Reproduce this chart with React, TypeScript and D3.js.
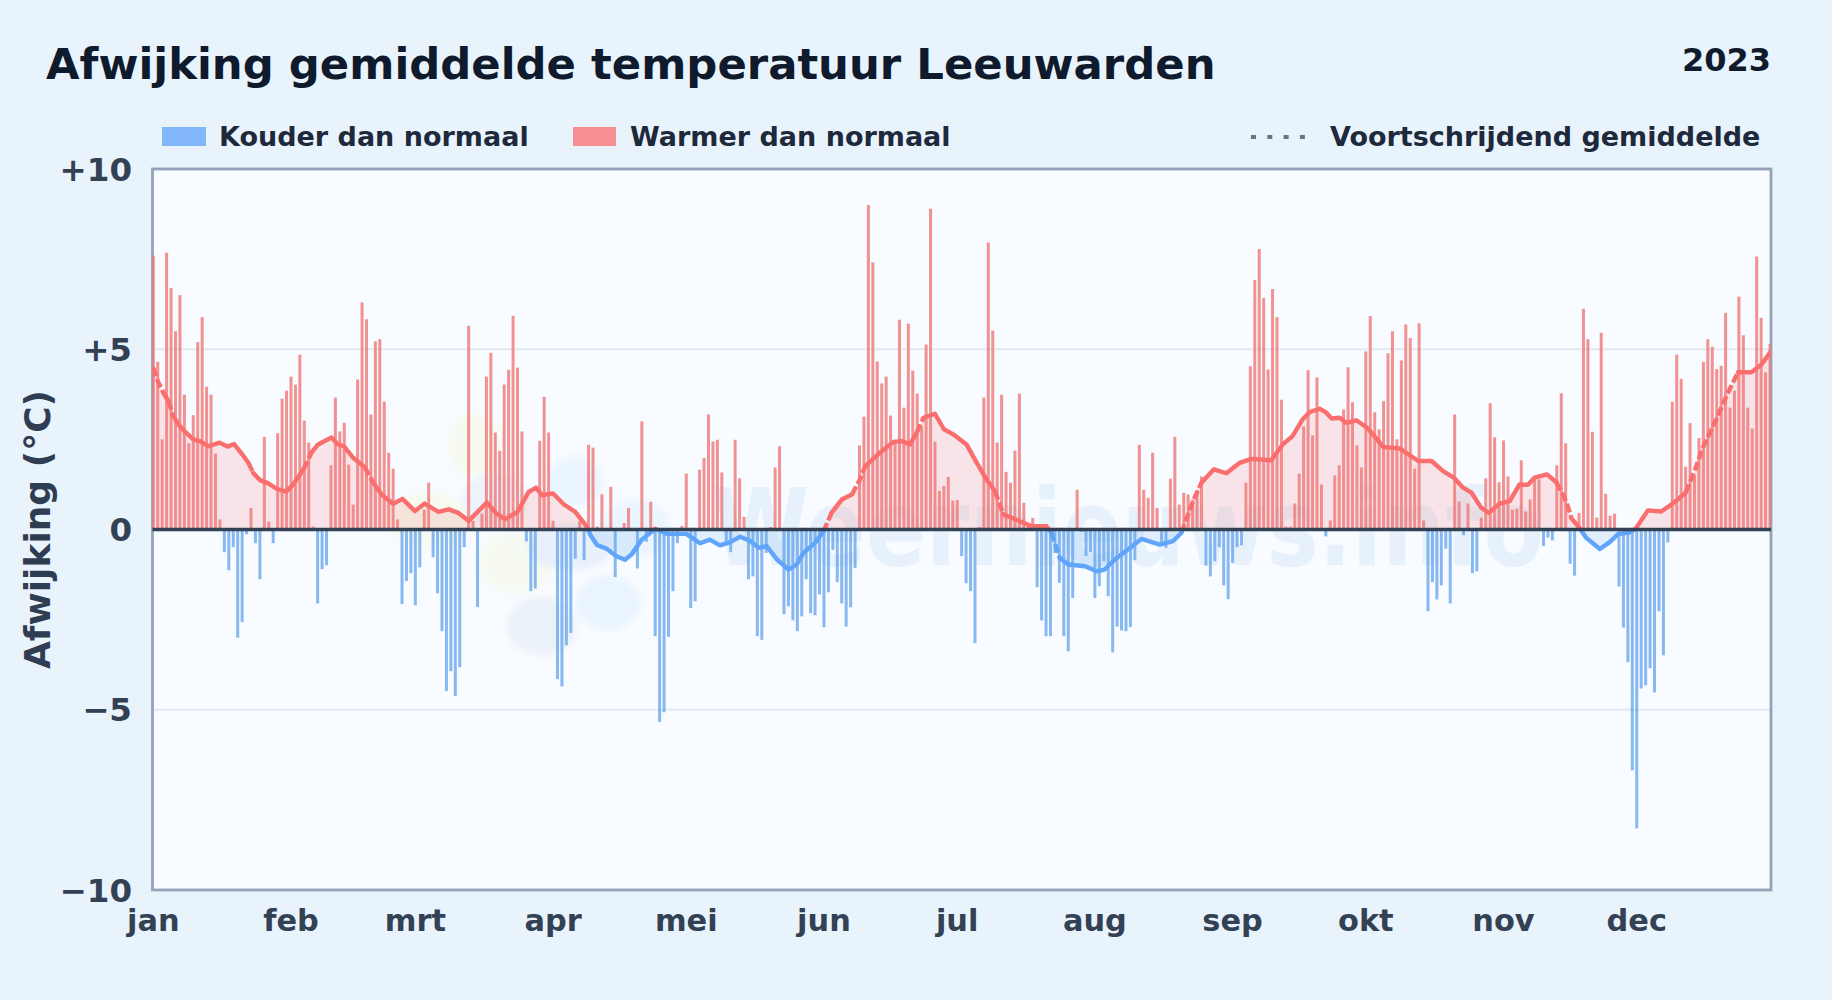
import React, { useEffect } from 'react';
import * as d3 from 'd3';

const WIDTH = 1832;
const HEIGHT = 1000;
const PLOT = { left: 152.5, right: 1771, top: 169, bottom: 890 };

const MONTHS = ['jan', 'feb', 'mrt', 'apr', 'mei', 'jun', 'jul', 'aug', 'sep', 'okt', 'nov', 'dec'];
const MONTH_STARTS = [0, 31, 59, 90, 120, 151, 181, 212, 243, 273, 304, 334];
const Y_TICKS = [10, 5, 0, -5, -10];
const GRID_TICKS = [5, -5];

const DAILY_JAN_FEB = [
  7.6, 4.65, 2.5, 7.68, 6.7, 5.5, 6.5, 3.74, 2.39, 3.17, 5.2, 5.89, 3.96, 3.74, 2.11, 0.28, -0.63, -1.13, -0.49, -3.0,
  -2.57, -0.13, 0.6, -0.38, -1.38, 2.57, 0.22, -0.38, 2.67, 3.63, 3.85, 4.24, 4.02, 4.85, 3.02, 2.41, 0.08, -2.05, -1.1, -0.99,
  1.78, 3.66, 2.72, 2.96, 1.8, 0.69, 4.16, 6.3, 5.83, 3.19, 5.22, 5.28, 3.55, 2.13, 1.69, 0.28, -2.07, -1.43, -1.21,
];
const DAILY_MAR_APR = [
  -2.1, -1.05, 0.55, 1.3, -0.77, -1.77, -2.82, -4.48, -3.93, -4.62, -3.82, -0.49, 5.65, 0.24, -2.15, 0.44, 4.24, 4.9, 2.69, 2.18,
  4.02, 4.43, 5.93, 4.49, 2.72, -0.33, -1.71, -1.64, 2.46, 3.68, 2.69, 0.24, -4.15, -4.35, -3.21, -2.87, -0.81, 0.24, -0.85, 2.35,
  2.27, 0.08, 0.98, 0, 1.18, -1.32, 0, 0.18, 0.6, 0, -1.08, 3.0, -0.34, 0.77, -2.96, -5.34, -5.07, -2.98, -1.71, -0.38, 0.1,
];
const DAILY_MAY_JUN = [
  1.55, -2.18, -1.99, 1.66, 1.98, 3.19, 2.44, 2.49, 1.58, -0.33, -0.63, 2.49, 1.42, 0.35, -1.38, -1.3, -2.96, -3.06, -0.65, 0.07,
  1.72, 2.31, -2.35, -2.13, -2.52, -2.82, -2.41, -1.38, -2.32, -2.38, -1.8, -2.71, -1.74, -0.57, -1.46, -2.05, -2.69, -2.16, -1.07, 2.33,
  3.13, 9.0, 7.41, 4.66, 4.05, 4.24, 3.16, 2.45, 5.82, 3.38, 5.71, 4.41, 3.77, 2.85, 5.13, 8.9, 2.44, 1.07, 1.21, 1.46, 0.8,
];
const DAILY_JUL_AUG = [
  0.82, -0.74, -1.49, -1.71, -3.15, 0.07, 3.66, 7.96, 5.52, 2.41, 3.74, 1.6, 1.3, 2.19, 3.77, 0.74, 0.14, 0.32, -1.6, -2.52,
  -2.96, -2.96, -0.65, -1.48, -2.96, -3.38, -1.9, 1.1, -0.07, -0.74, -0.63, -1.9, -1.57, -0.88, -1.85, -3.41, -2.69, -2.8, -2.82, -2.71,
  -0.85, 2.35, 1.1, 0.88, 2.13, 0.6, -0.37, -0.51, 1.41, 2.57, 0.69, 1.02, 0.97, 0.83, 1.1, 1.47, -1.0, -1.3, -0.88, -0.49, -1.55, -1.93,
];
const DAILY_SEP_OCT = [
  -0.93, -0.49, -0.44, 1.3, 4.53, 6.92, 7.78, 6.42, 4.44, 6.67, 5.89, 3.6, 0.08, 0.08, 0.72, 1.55, 2.86, 4.42, 2.61, 4.22,
  1.25, -0.19, 0.25, 1.5, 1.78, 3.33, 4.5, 3.53, 2.33, 1.72, 4.94, 5.92, 3.25, 2.78, 3.56, 4.89, 5.5, 2.5, 4.69, 5.69,
  5.31, 1.69, 5.72, 0.25, -2.27, -1.46, -1.94, -1.55, -0.53, -2.05, 3.19, 0.78, -0.16, 0.72, -1.21, -1.16, 0.33, 1.42, 3.5, 2.56, 1.31,
];
const DAILY_NOV_DEC = [
  2.47, 1.47, 0.55, 0.58, 1.92, 0.5, 0.83, 1.39, 1.39, -0.46, -0.22, -0.3, 1.78, 3.78, 2.39, -0.95, -1.28, 0.46, 6.12, 5.28,
  2.71, 0.33, 5.46, 0.99, 0.38, 0.44, -1.58, -2.72, -3.68, -6.68, -8.29, -4.41, -4.32, -3.85, -4.52, -2.27, -3.49, -0.36, 3.54, 4.85,
  4.18, 1.74, 2.95, 1.5, 2.54, 4.65, 5.28, 5.07, 4.45, 4.54, 6.01, 3.38, 3.85, 6.46, 5.39, 3.38, 2.8, 7.57, 5.87, 4.36, 5.15,
];
const DAILY = [...DAILY_JAN_FEB, ...DAILY_MAR_APR, ...DAILY_MAY_JUN, ...DAILY_JUL_AUG, ...DAILY_SEP_OCT, ...DAILY_NOV_DEC];

const ROLLING: [number, number][] = [
  [0, 4.49], [1, 4.12], [2.25, 3.8], [3.4, 3.56], [4.5, 3.15], [5.6, 2.92], [7, 2.73], [9, 2.5], [10.5, 2.45], [12.4, 2.31],
  [14.9, 2.41], [16.7, 2.3], [18.2, 2.37], [20.3, 2.04], [21.4, 1.85], [22.5, 1.57], [24, 1.37], [25.9, 1.28], [27.8, 1.13], [29.9, 1.05],
  [31.5, 1.25], [33.8, 1.67], [35.6, 2.13], [37.1, 2.36], [40.1, 2.55], [41.6, 2.36], [42.9, 2.31], [45, 1.99], [47.6, 1.73], [49.5, 1.3],
  [51.4, 0.97], [54, 0.71], [56.1, 0.85], [58.9, 0.51], [61.1, 0.72], [64.2, 0.49], [66.5, 0.56], [68.7, 0.46], [71, 0.24], [75.1, 0.75],
  [77.3, 0.44], [79.2, 0.29], [82, 0.49], [84.5, 1.04], [86.2, 1.16], [87.5, 0.95], [90, 1.0], [92.4, 0.7], [95, 0.49], [97.6, 0.08],
  [98.5, -0.17], [99.9, -0.43], [102, -0.53], [104.3, -0.74], [106.2, -0.84], [107.7, -0.69], [110, -0.28], [113, 0.02], [115.6, -0.12], [120, -0.12],
  [123.1, -0.38], [125.3, -0.28], [127.6, -0.44], [129.9, -0.35], [132.1, -0.2], [134.4, -0.32], [136.3, -0.51], [138.1, -0.46], [140.4, -0.83], [143, -1.11],
  [144.9, -0.97], [146.4, -0.65], [149, -0.37], [150.9, -0.05], [152.7, 0.46], [155, 0.83], [157.3, 0.97], [159.1, 1.39], [160.3, 1.76], [163.6, 2.13],
  [166.6, 2.43], [168.5, 2.45], [170.4, 2.36], [171.9, 2.69], [173.4, 3.1], [176, 3.21], [178, 2.78], [180.1, 2.64], [183.1, 2.36], [185.4, 1.85],
  [187.6, 1.39], [189.5, 1.06], [191.4, 0.42], [195.1, 0.23], [197.8, 0.09], [201.1, 0.09], [202.2, -0.09], [204.1, -0.79], [206, -0.97], [209.8, -1.02],
  [212.4, -1.16], [214.2, -1.11], [216.9, -0.79], [219.9, -0.51], [222.5, -0.26], [226.6, -0.42], [229.6, -0.32], [231.5, -0.09], [233, 0.42], [234.1, 0.79],
  [236, 1.3], [238.8, 1.67], [241.6, 1.56], [244.6, 1.85], [247.2, 1.96], [251.7, 1.92], [254.3, 2.36], [256.5, 2.59], [258.8, 3.06], [260.4, 3.26],
  [262.6, 3.35], [264.1, 3.24], [265.3, 3.08], [267.1, 3.1], [268.6, 2.96], [270.9, 3.03], [273.5, 2.8], [276.9, 2.29], [280.6, 2.25], [284.8, 1.9],
  [287.8, 1.9], [290.4, 1.62], [292.8, 1.44], [294.9, 1.16], [296.8, 1.02], [299, 0.6], [300.7, 0.46], [303.1, 0.72], [305.4, 0.79], [307.6, 1.25],
  [309.5, 1.24], [311, 1.44], [313.8, 1.53], [315.9, 1.31], [317.4, 0.97], [318.6, 0.6], [319.3, 0.31], [320.8, 0.09], [322.7, -0.24], [325.7, -0.54],
  [327.9, -0.35], [329.8, -0.13], [332.4, -0.08], [333.8, 0.03], [336.5, 0.53], [339.5, 0.5], [341.8, 0.69], [345, 1.02], [347, 1.62], [348.9, 2.28],
  [351.9, 3.05], [354.2, 3.71], [356.8, 4.36], [359.8, 4.36], [362.1, 4.58], [364, 4.91],
];

const FONT = '"DejaVu Sans", sans-serif';
const STEEP = 1.8;

const App: React.FC = () => {
  useEffect(() => {
    document.body.style.margin = '0';
  }, []);

  const plotW = PLOT.right - PLOT.left;
  const x = d3.scaleLinear().domain([0, 364]).range([153.3, 1770]);
  const y = d3.scaleLinear().domain([-10, 10]).range([PLOT.bottom, PLOT.top]);
  const zeroY = y(0);

  const area = d3.area<[number, number]>().x(d => x(d[0])).y0(zeroY).y1(d => y(d[1]));
  const line = d3.line<[number, number]>().x(d => x(d[0])).y(d => y(d[1]));

  // steile stukken van de lijn zijn in het origineel gebroken
  const runs: { pts: [number, number][]; steep: boolean }[] = [];
  ROLLING.slice(1).forEach((p, i) => {
    const prev = ROLLING[i];
    const steep = Math.abs(y(p[1]) - y(prev[1])) / (x(p[0]) - x(prev[0])) > STEEP;
    const last = runs[runs.length - 1];
    if (last && last.steep === steep) last.pts.push(p);
    else runs.push({ pts: [prev, p], steep });
  });

  const rollingLine = (color: string) =>
    runs.map((r, i) => (
      <path
        key={i}
        d={line(r.pts) || ''}
        fill="none"
        stroke={color}
        strokeWidth={4.4}
        strokeLinejoin="round"
        strokeLinecap={r.steep ? 'butt' : 'round'}
        strokeDasharray={r.steep ? '9 3' : undefined}
      />
    ));

  return (
    <svg width={WIDTH} height={HEIGHT} viewBox={`0 0 ${WIDTH} ${HEIGHT}`} style={{ display: 'block' }} fontFamily={FONT} fontWeight="bold">
      <defs>
        <clipPath id="plot">
          <rect x={PLOT.left - 1} y={PLOT.top} width={plotW + 1} height={PLOT.bottom - PLOT.top} />
        </clipPath>
        <clipPath id="above">
          <rect x={PLOT.left - 1} y={PLOT.top} width={plotW + 1} height={zeroY - PLOT.top} />
        </clipPath>
        <clipPath id="below">
          <rect x={PLOT.left - 1} y={zeroY} width={plotW + 1} height={PLOT.bottom - zeroY} />
        </clipPath>
        <filter id="soft" x="-20%" y="-20%" width="140%" height="140%">
          <feGaussianBlur stdDeviation="3" />
        </filter>
      </defs>

      <rect width={WIDTH} height={HEIGHT} fill="#e9f3fc" />

      <text x={46} y={79} fontSize={43.35} fill="#0f1b2d">Afwijking gemiddelde temperatuur Leeuwarden</text>
      <text x={1771} y={71} fontSize={32} fill="#0f1b2d" textAnchor="end">2023</text>

      <rect x={162} y={127} width={44} height={19} fill="#82b6fb" />
      <text x={219} y={146} fontSize={27} fill="#1e293b">Kouder dan normaal</text>
      <rect x={573} y={127} width={43} height={19} fill="#f58f91" />
      <text x={630} y={146} fontSize={27} fill="#1e293b">Warmer dan normaal</text>
      <line x1={1251} x2={1309} y1={137} y2={137} stroke="#64748b" strokeWidth={4} strokeDasharray="5 11.3" />
      <text x={1330} y={146} fontSize={27} fill="#1e293b">Voortschrijdend gemiddelde</text>

      <rect x={PLOT.left} y={PLOT.top} width={plotW} height={PLOT.bottom - PLOT.top} fill="#f8fbff" />

      <g filter="url(#soft)">
        <ellipse cx={475} cy={445} rx={27} ry={32} fill="#f6faf0" />
        <ellipse cx={430} cy={520} rx={43} ry={27} fill="#f6faf0" />
        <ellipse cx={516} cy={563} rx={37} ry={30} fill="#f6faf0" />
        <ellipse cx={495} cy={500} rx={33} ry={27} fill="#ecf3fb" />
        <ellipse cx={575} cy={482} rx={28} ry={25} fill="#ebf5fe" />
        <ellipse cx={636} cy={528} rx={34} ry={29} fill="#ebf5fe" />
        <ellipse cx={608} cy={603} rx={32} ry={27} fill="#e9f4fe" />
        <ellipse cx={542} cy={626} rx={35} ry={29} fill="#ecf2f9" />
        <ellipse cx={570} cy={546} rx={43} ry={24} fill="#e7f0fb" />
      </g>
      <text x={712} y={565} fontSize={107} fill="#e6f1fb" textLength={832} lengthAdjust="spacingAndGlyphs">Weernieuws.info</text>

      {GRID_TICKS.map(t => (
        <line key={t} x1={PLOT.left} x2={PLOT.right} y1={y(t)} y2={y(t)} stroke="#e2e8f0" strokeWidth={2.2} />
      ))}

      <rect x={PLOT.left} y={PLOT.top} width={plotW} height={PLOT.bottom - PLOT.top} fill="none" stroke="#94a3b8" strokeWidth={2.8} />

      <g clipPath="url(#plot)">
        <g clipPath="url(#above)">
          <path d={area(ROLLING) || ''} fill="#fa8080" fillOpacity={0.18} />
        </g>
        <g clipPath="url(#below)">
          <path d={area(ROLLING) || ''} fill="#60a5fa" fillOpacity={0.15} />
        </g>

        {DAILY.map((v, i) => (
          <rect
            key={i}
            x={x(i) - 1.5}
            width={3}
            y={v >= 0 ? y(v) : zeroY}
            height={Math.abs(y(v) - zeroY)}
            fill={v >= 0 ? '#ef7777' : '#6aa8ee'}
            fillOpacity={0.8}
          />
        ))}

        <g clipPath="url(#above)">{rollingLine('#fa6e6e')}</g>
        <g clipPath="url(#below)">{rollingLine('#60a5fa')}</g>
      </g>

      <line x1={PLOT.left} x2={PLOT.right} y1={zeroY} y2={zeroY} stroke="#334155" strokeWidth={3.4} />

      {Y_TICKS.map(t => (
        <text key={t} x={132} y={y(t)} dy="0.36em" fontSize={32.5} fill="#334155" textAnchor="end">
          {t > 0 ? `+${t}` : t < 0 ? `\u2212${-t}` : '0'}
        </text>
      ))}
      {MONTHS.map((m, i) => (
        <text key={m} x={x(MONTH_STARTS[i])} y={931} fontSize={30.4} fill="#334155" textAnchor="middle">{m}</text>
      ))}
      <text transform={`translate(50, ${zeroY}) rotate(-90)`} fontSize={36} fill="#2f3d52" textAnchor="middle">Afwijking (°C)</text>
    </svg>
  );
};

export default App;
